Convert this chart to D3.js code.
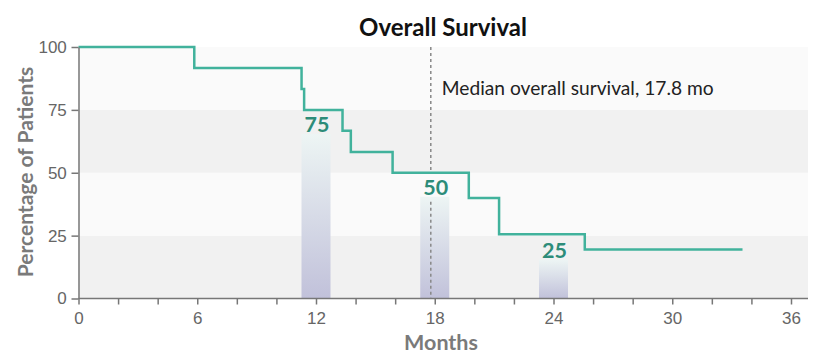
<!DOCTYPE html>
<html>
<head>
<meta charset="utf-8">
<script src="https://cdn.jsdelivr.net/npm/d3@7"></script>
<style>
  body { margin: 0; background: #fff; }
  svg { display: block; font-family: Lato, "Open Sans", sans-serif; }
  .tick text { fill: #666; font-size: 17px; font-weight: 300; }
  .axis path, .axis line { stroke: #777; stroke-width: 1.5; }
</style>
</head>
<body>
<svg class="km" width="823" height="362"></svg>
<script>
// Kaplan-Meier step curve (months, % surviving)
const stepMonths   = [0, 5.85, 11.27, 11.4, 13.34, 13.76, 15.87, 19.72, 21.25, 25.58, 33.55]
const stepSurvival = [100, 91.7, 83.3, 75, 66.7, 58.3, 50, 40, 25.5, 19.5, 19.5]

// landmark bars
const landmarkMonths = [12, 18, 24]
const landmarkValues = [75, 50, 25]

const medianMonths = 17.8
const xTicks = d3.range(0, 37, 2)
const xLabels = [0, 6, 12, 18, 24, 30, 36]
const yTicks = [0, 25, 50, 75, 100]
const bands = [[0, 25], [25, 50], [50, 75], [75, 100]]

const svg = d3.select("svg.km")
const plotLeft = 78.5, plotRight = 808, plotTop = 47, plotBottom = 298.5

const x = d3.scaleLinear().domain([0, 36]).range([plotLeft, 791])
const y = d3.scaleLinear().domain([0, 100]).range([plotBottom, plotTop])

// background bands
svg.append("g").selectAll("rect")
  .data(bands)
  .enter().append("rect")
  .attr("x", plotLeft)
  .attr("width", plotRight - plotLeft)
  .attr("y", (d) => y(d[1]))
  .attr("height", (d) => y(d[0]) - y(d[1]))
  .attr("fill", (d, i) => i % 2 === 0 ? "#f1f1f1" : "#fafafa")

// gradient for landmark bars
const grad = svg.append("defs").append("linearGradient")
  .attr("id", "barGrad")
  .attr("x1", 0).attr("y1", 0).attr("x2", 0).attr("y2", 1)
grad.append("stop").attr("offset", "0%").attr("stop-color", "#edf5f4")
grad.append("stop").attr("offset", "100%").attr("stop-color", "#c1c1da")

const barW = 29, labelGap = 24
const landmarks = landmarkMonths.map((m, i) => ({ m: m, v: landmarkValues[i] }))

svg.append("g").selectAll("rect")
  .data(landmarks)
  .enter().append("rect")
  .attr("x", (d) => x(d.m) - barW / 2)
  .attr("width", barW)
  .attr("y", (d) => y(d.v) + labelGap)
  .attr("height", (d) => y(0) - y(d.v) - labelGap)
  .attr("fill", "url(#barGrad)")

svg.append("g").selectAll("text")
  .data(landmarks)
  .enter().append("text")
  .attr("x", (d) => x(d.m) + 1)
  .attr("y", (d) => y(d.v) + 22)
  .attr("text-anchor", "middle")
  .attr("font-size", 21.5)
  .attr("font-weight", 700)
  .attr("fill", "#2d8c79")
  .text((d) => d.v)

// median dotted line, broken where it crosses the 50% landmark label
const medianLabel = landmarks.find((d) => Math.abs(d.m - medianMonths) < 1)
const medianSegs = medianLabel
  ? [[plotTop, y(medianLabel.v)], [y(medianLabel.v) + labelGap + 5, plotBottom]]
  : [[plotTop, plotBottom]]

svg.append("g").selectAll("line")
  .data(medianSegs)
  .enter().append("line")
  .attr("x1", x(medianMonths)).attr("x2", x(medianMonths))
  .attr("y1", (d) => d[0]).attr("y2", (d) => d[1])
  .attr("stroke", "#888")
  .attr("stroke-width", 1.5)
  .attr("stroke-dasharray", "3,3")

svg.append("text")
  .attr("x", x(medianMonths) + 11)
  .attr("y", 95)
  .attr("font-size", 19.2)
  .attr("fill", "#222")
  .text("Median overall survival, 17.8 mo")

// survival curve
const line = d3.line()
  .curve(d3.curveStepAfter)
  .x((d) => x(d[0]))
  .y((d) => y(d[1]))

svg.append("path")
  .datum(stepMonths.map((m, i) => [m, stepSurvival[i]]))
  .attr("d", line)
  .attr("fill", "none")
  .attr("stroke", "#41b29c")
  .attr("stroke-width", 2.5)

// axes
const xAxis = svg.append("g")
  .attr("class", "axis")
  .attr("transform", `translate(0,${plotBottom})`)
  .call(d3.axisBottom(x).tickValues(xTicks).tickSize(6).tickSizeOuter(0)
    .tickFormat((d) => xLabels.includes(d) ? d : ""))
xAxis.select(".domain").attr("d", `M${plotLeft},0H${plotRight}`)
xAxis.selectAll(".tick text").attr("dy", "0.95em")

svg.append("g")
  .attr("class", "axis")
  .attr("transform", `translate(${plotLeft},0)`)
  .call(d3.axisLeft(y).tickValues(yTicks).tickSize(7).tickSizeOuter(0))
  .selectAll(".tick text").attr("dx", "-0.1em")

// titles
svg.append("text")
  .attr("x", 443).attr("y", 36)
  .attr("text-anchor", "middle")
  .attr("font-size", 24)
  .attr("font-weight", 700)
  .attr("fill", "#111")
  .text("Overall Survival")

svg.append("text")
  .attr("x", 441).attr("y", 349.5)
  .attr("text-anchor", "middle")
  .attr("font-size", 21.5)
  .attr("font-weight", 700)
  .attr("fill", "#7a7a7a")
  .text("Months")

svg.append("text")
  .attr("transform", "translate(33,172) rotate(-90)")
  .attr("text-anchor", "middle")
  .attr("font-size", 21)
  .attr("font-weight", 700)
  .attr("fill", "#7a7a7a")
  .text("Percentage of Patients")
</script>
</body>
</html>
